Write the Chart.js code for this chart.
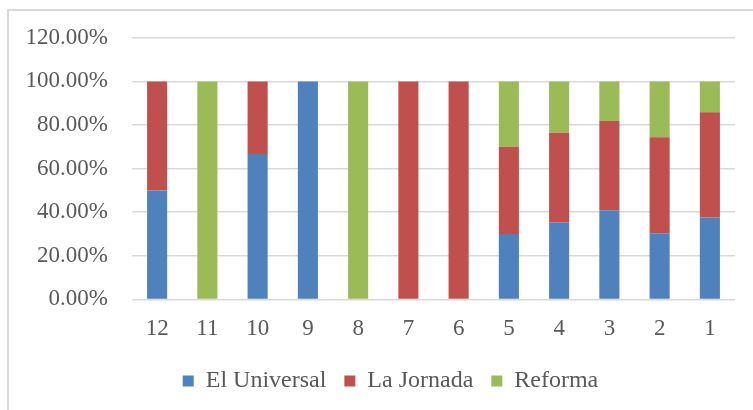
<!DOCTYPE html>
<html>
<head>
<meta charset="utf-8">
<script src="https://cdn.jsdelivr.net/npm/chart.js@4.4.1/dist/chart.umd.min.js"></script>
<style>
    html, body { margin: 0; padding: 0; background: #fff; overflow: hidden; }
    #frame {
        position: absolute; left: 7px; top: 9px; width: 800px; height: 500px;
        border: 2px solid #d9d9d9; box-sizing: border-box;
    }
    #wrap { position: absolute; left: 0; top: 0; width: 753px; height: 410px; }
</style>
</head>
<body>
<div id="frame"></div>
<div id="wrap"><canvas id="chart" width="753" height="410"></canvas></div>
<script>
// Months (shown in reverse order as in the original)
const categories = ['12', '11', '10', '9', '8', '7', '6', '5', '4', '3', '2', '1'];

// Share per newspaper, in percent
const elUniversal = [50, 0, 66.67, 100, 0, 0, 0, 30, 35.3, 40.9, 30.4, 37.6];
const laJornada   = [50, 0, 33.33, 0, 0, 100, 100, 40, 41.2, 40.9, 44, 48.3];
const reforma     = [0, 100, 0, 0, 100, 0, 0, 30, 23.5, 18.2, 25.6, 14.1];

const yTicks = [0, 20, 40, 60, 80, 100, 120];

const textColor = '#595959';
const fontFamily = '"Liberation Serif", "Times New Roman", serif';

// legend in the original is centred a bit right of the canvas middle
const legendShift = {
    id: 'legendShift',
    afterLayout(chart) {
        const lg = chart.legend;
        if (lg) {
            lg.left = 46;
            lg.right = chart.chartArea.right;
        }
    }
};

const ctx = document.getElementById('chart').getContext('2d');

new Chart(ctx, {
    type: 'bar',
    data: {
        labels: categories,
        datasets: [
            { label: 'El Universal', data: elUniversal, backgroundColor: '#4f81bd' },
            { label: 'La Jornada', data: laJornada, backgroundColor: '#c0504d' },
            { label: 'Reforma', data: reforma, backgroundColor: '#9bbb59' }
        ]
    },
    plugins: [legendShift],
    options: {
        responsive: false,
        animation: false,
        datasets: {
            bar: { barPercentage: 0.4, categoryPercentage: 1.0, borderWidth: 0 }
        },
        layout: {
            padding: { top: 30, right: 18, left: 0, bottom: 7 }
        },
        plugins: {
            legend: {
                position: 'bottom',
                labels: {
                    color: textColor,
                    font: { family: fontFamily, size: 24 },
                    boxWidth: 11,
                    boxHeight: 11,
                    padding: 18
                }
            },
            tooltip: { enabled: false }
        },
        scales: {
            x: {
                stacked: true,
                grid: { display: false },
                border: { display: false },
                ticks: {
                    color: textColor,
                    font: { family: fontFamily, size: 23 },
                    padding: 8,
                    maxRotation: 0
                }
            },
            y: {
                stacked: true,
                min: 0,
                max: 120,
                afterBuildTicks: (axis) => {
                    axis.ticks = yTicks.map(v => ({ value: v }));
                },
                afterFit: (axis) => { axis.width = 132; },
                grid: { color: '#d9d9d9', lineWidth: 1.5, drawTicks: false },
                border: { display: false },
                ticks: {
                    color: textColor,
                    font: { family: fontFamily, size: 23 },
                    padding: 24,
                    callback: (v) => v.toFixed(2) + '%'
                }
            }
        }
    }
});
</script>
</body>
</html>
